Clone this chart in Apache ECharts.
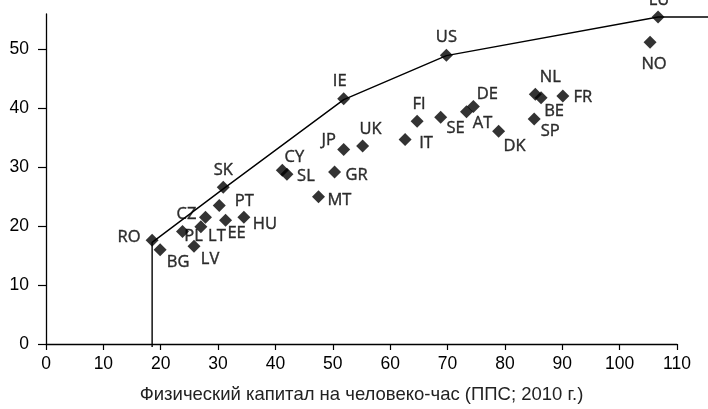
<!DOCTYPE html>
<html>
<head>
<meta charset="utf-8">
<script src="https://cdn.jsdelivr.net/npm/echarts@6/dist/echarts.min.js"></script>
<style>
  html, body { margin: 0; padding: 0; background: #fff; }
  #chart { width: 708px; height: 409px; }
</style>
</head>
<body>
<div id="chart"></div>
<script>
// Countries, physical capital per hour worked (x) and output per hour (y)
const countries = ['RO','BG','CZ','PL','LT','LV','SK','PT','EE','HU','CY','SL','IE','JP','UK','GR','MT','FI','IT','SE','DE','AT','NL','BE','FR','SP','DK','NO','LU','US'];
const capitalPerHour = [18.5,19.9,27.8,23.8,27.0,25.8,30.9,30.2,31.3,34.5,41.2,42.0,51.9,51.9,55.2,50.3,47.5,64.7,62.6,68.8,74.5,73.3,85.3,86.3,90.1,85.1,78.9,105.3,106.7,69.8];
const outputPerHour  = [17.6,16.0,21.5,19.1,19.9,16.6,26.6,23.5,21.0,21.5,29.5,28.8,41.6,33.0,33.6,29.2,25.0,37.8,34.7,38.5,40.3,39.4,42.4,41.8,42.1,38.2,36.1,51.2,55.5,49.0];

// Efficiency frontier: drops to the axis at RO, runs through SK, IE, US, LU, then flat
const frontierCountries = ['RO','SK','IE','US','LU'];
const frontierFloorY = 0;
const frontierTailX = 115.4;

const xTicks = [0,10,20,30,40,50,60,70,80,90,100,110];
const yTicks = [0,10,20,30,40,50];
const xAxisName = 'Физический капитал на человеко-час (ППС; 2010 г.)';

// Label offsets around each marker, in pixels
const labelOffsets = {
  RO:[-23,-3], BG:[18,13], CZ:[-19,-3], PL:[11,5], LT:[16,10], LV:[16,13],
  SK:[0,-17], PT:[25,-4], EE:[11,13], HU:[21,7], CY:[12,-13], SL:[19,2],
  IE:[-4,-18], JP:[-15,-9], UK:[8,-17], GR:[22,3], MT:[21,4], FI:[2,-17],
  IT:[21,4], SE:[15,11], DE:[14,-12], AT:[16,11], NL:[15,-17], BE:[13,14],
  FR:[20,1], SP:[16,12], DK:[16,15], NO:[4,22], LU:[1,-17], US:[0,-18]
};

const points = countries.map((c, i) => ({
  name: c,
  value: [capitalPerHour[i], outputPerHour[i]],
  label: { offset: labelOffsets[c] }
}));

const frontier = [];
const first = countries.indexOf(frontierCountries[0]);
frontier.push([capitalPerHour[first], frontierFloorY]);
frontierCountries.forEach(c => {
  const i = countries.indexOf(c);
  frontier.push([capitalPerHour[i], outputPerHour[i]]);
});
const last = countries.indexOf(frontierCountries[frontierCountries.length - 1]);
frontier.push([frontierTailX, outputPerHour[last]]);

const tickFont = { fontFamily: 'Liberation Sans', fontSize: 17.5, color: '#000' };

const chart = echarts.init(document.getElementById('chart'), null, { renderer: 'canvas' });
chart.setOption({
  animation: false,
  grid: [
    { left: 46, right: 31, top: 14, bottom: 62, containLabel: false },
    // same vertical scale, running to the right edge so the flat tail of the frontier continues
    { left: 46, right: 0, top: 14, bottom: 62, containLabel: false }
  ],
  xAxis: [
    {
      type: 'value', min: 0, max: 110, interval: 10, gridIndex: 0,
      name: xAxisName, nameLocation: 'middle', nameGap: 41,
      nameTextStyle: { fontFamily: 'Liberation Sans', fontSize: 18.5, color: '#222' },
      axisLine: { lineStyle: { color: '#000', width: 1.3 } },
      axisTick: { show: true, length: 6, lineStyle: { color: '#000', width: 1.2 }, customValues: xTicks },
      axisLabel: Object.assign({ margin: 11, customValues: xTicks }, tickFont),
      splitLine: { show: false }
    },
    { type: 'value', min: 0, max: frontierTailX, gridIndex: 1, show: false }
  ],
  yAxis: [
    {
      type: 'value', min: 0, max: 56, gridIndex: 0,
      axisLine: { show: true, lineStyle: { color: '#000', width: 1.3 } },
      axisTick: { show: true, length: 8, lineStyle: { color: '#000', width: 1.2 }, customValues: yTicks },
      axisLabel: Object.assign({ margin: 17, customValues: yTicks }, tickFont),
      splitLine: { show: false }
    },
    { type: 'value', min: 0, max: 56, gridIndex: 1, show: false }
  ],
  series: [
    {
      type: 'line',
      xAxisIndex: 1,
      yAxisIndex: 1,
      data: frontier,
      symbol: 'none',
      lineStyle: { color: '#000', width: 1.4 },
      z: 1
    },
    {
      type: 'scatter',
      xAxisIndex: 0,
      yAxisIndex: 0,
      data: points,
      symbol: 'diamond',
      symbolSize: 13,
      clip: false,
      itemStyle: { color: '#000' },
      label: {
        show: true,
        position: 'inside',
        formatter: p => p.name,
        fontFamily: 'Open Sans',
        fontSize: 16.5,
        color: '#000',
        textBorderColor: '#000',
        textBorderWidth: 0.4
      },
      z: 2
    }
  ]
});
</script>
</body>
</html>
